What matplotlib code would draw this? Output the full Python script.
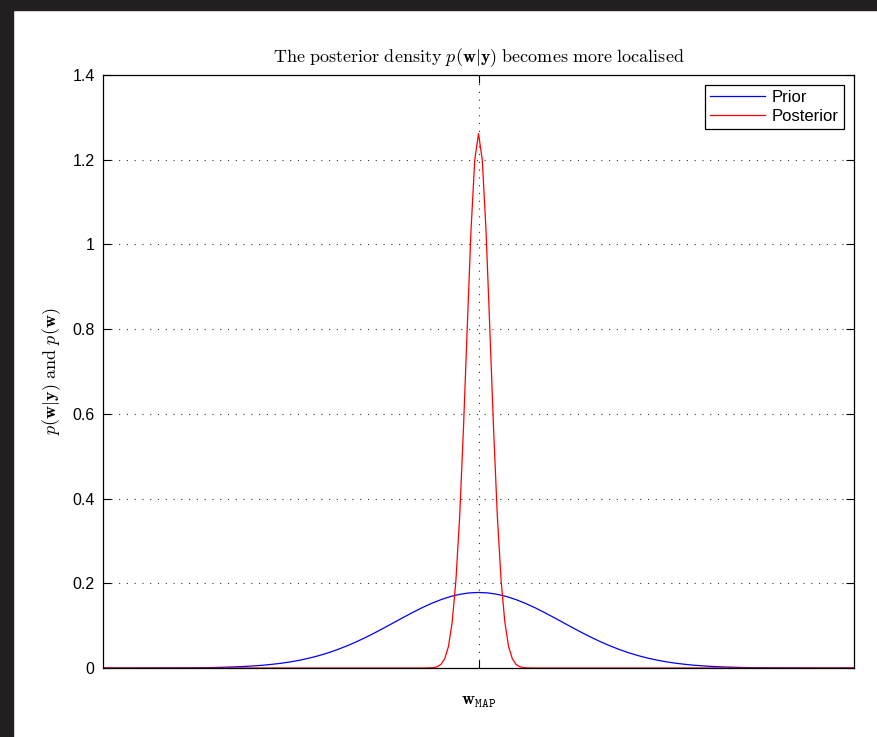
import numpy as np
import matplotlib
matplotlib.use("Agg")
import matplotlib.pyplot as plt
from matplotlib.patches import Rectangle

plt.rcParams['font.family'] = ['Liberation Sans', 'DejaVu Sans']
plt.rcParams['mathtext.fontset'] = 'cm'

# prior p(w): density, x in steps of 0.25 (w_MAP at 0)
prior_x = np.arange(-10, 10.001, 0.25)
prior_half = [0.1784, 0.1773, 0.1740, 0.1687, 0.1614, 0.1526, 0.1425, 0.1313,
              0.1196, 0.1075, 0.0955, 0.0837, 0.0725, 0.0620, 0.0524, 0.0437,
              0.0360, 0.0293, 0.0235, 0.0187, 0.0146, 0.0113, 0.0087, 0.0065,
              0.0049, 0.0036, 0.0026, 0.0019, 0.0013, 0.0009, 0.0006, 0.0004,
              0.0003, 0.0002, 0.0001, 0.0001, 0.0, 0.0, 0.0, 0.0, 0.0]
prior_y = prior_half[::-1] + prior_half[1:]

# posterior p(w|y): sharp peak around w_MAP, x in steps of 0.1
post_half = [1.2616, 1.200, 1.033, 0.804, 0.567, 0.361, 0.209, 0.109, 0.051,
             0.022, 0.0085, 0.0030, 0.0009, 0.0003, 0.0001, 0.0]
post_core_x = np.round(np.arange(-1.5, 1.51, 0.1), 1)
post_x = np.concatenate([[-10], post_core_x, [10]])
post_y = [0.0] + post_half[::-1] + post_half[1:] + [0.0]

yticks = [0, 0.2, 0.4, 0.6, 0.8, 1, 1.2, 1.4]
ytick_labels = ['0', '0.2', '0.4', '0.6', '0.8', '1', '1.2', '1.4']

fig = plt.figure(figsize=(8.78, 7.37), dpi=100)
ax = fig.add_axes([0.1173, 0.0936, 0.8554, 0.8046])

ax.plot(prior_x, prior_y, color='blue', lw=0.9, label='Prior')
ax.plot(post_x, post_y, color='red', lw=0.9, label='Posterior')

ax.set_xlim(-10, 10)
ax.set_ylim(0, 1.4)
ax.set_xticks([0])
ax.set_xticklabels([''])
ax.set_yticks(yticks)
ax.set_yticklabels(ytick_labels)
ax.tick_params(direction='in', length=6, width=0.8, top=True, right=True,
               labelsize=11.5, pad=6)
ax.grid(True, color='black', linestyle=(0, (1, 6)), lw=0.8, alpha=0.8)
for s in ax.spines.values():
    s.set_linewidth(0.9)

ax.set_title(r'$\mathrm{The\ posterior\ density\ }p(\mathbf{w}|\mathbf{y})\mathrm{\ becomes\ more\ localised}$',
             fontsize=13, pad=9)
ax.set_xlabel(r'$\mathbf{w}_{\mathtt{MAP}}$', fontsize=13, labelpad=12)
ax.set_ylabel(r'$p(\mathbf{w}|\mathbf{y})\mathrm{\ and\ }p(\mathbf{w})$', fontsize=13, labelpad=7)

leg = ax.legend(loc='upper right', fontsize=12, fancybox=False, framealpha=1,
                edgecolor='black', handlelength=3.3, borderpad=0.3,
                labelspacing=0.25, handletextpad=0.4, borderaxespad=0.6)
leg.get_frame().set_linewidth(0.9)

# dark screenshot border on top and left
fig.patches.append(Rectangle((0, 1 - 10 / 737), 1, 10 / 737, transform=fig.transFigure,
                             color='#231f20', zorder=10))
fig.patches.append(Rectangle((0, 0), 13 / 878, 1, transform=fig.transFigure,
                             color='#231f20', zorder=10))

fig.savefig('out.png', dpi=100)
